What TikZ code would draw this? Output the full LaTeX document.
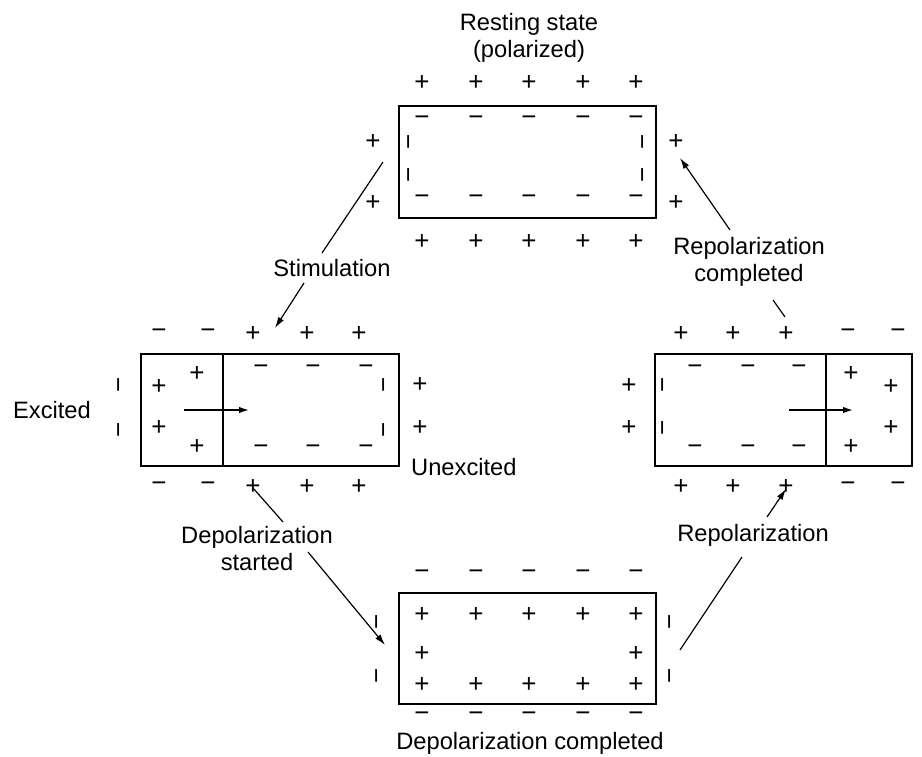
\documentclass[tikz,border=0pt]{standalone}
\usepackage{fontspec}
\setmainfont{Liberation Sans}
\usetikzlibrary{arrows.meta}
\begin{document}
\begin{tikzpicture}[x=1pt,y=-1pt,
  lbl/.style={inner sep=0pt,font=\fontsize{23.7}{27}\selectfont,align=center},
  sgn/.style={inner sep=0pt,font=\fontsize{26}{28}\selectfont},
  cell/.style={draw,line width=1.8pt},
  conn/.style={line width=1.2pt},
  tip/.style={line width=1.2pt,-{Latex[length=11pt,width=6.5pt]}},
  flow/.style={line width=1.5pt,-{Latex[length=10pt,width=6.5pt]}}]
\useasboundingbox (0,0) rectangle (922,756);
\newcommand\PL[2]{\node[sgn] at (#1,#2) {+};}
\newcommand\MN[2]{\node[sgn] at (#1,#2) {−};}
\newcommand\VB[2]{\node[sgn,rotate=90] at (#1,#2) {−};}

% ---------- Resting state (top) ----------
\node[lbl] (rest) at (529,38) {Resting state\\(polarized)};
\draw[cell] (399,106) rectangle (656,218);
\foreach \x in {422,476,529,583,636}{\PL{\x}{83}\PL{\x}{242}\MN{\x}{121}\MN{\x}{200}}
\foreach \y in {142,175}{\VB{412}{\y}\VB{646}{\y}}
\foreach \y in {142,203}{\PL{373}{\y}\PL{676}{\y}}

% ---------- Excited (left) ----------
\draw[cell] (141,354) rectangle (399,466);
\draw[line width=1.8pt] (223,354) -- (223,466);
\foreach \y in {334,487}{\MN{159}{\y}\MN{208}{\y}\PL{253}{\y}\PL{307}{\y}\PL{359}{\y}}
\PL{159}{387}\PL{197}{374}\PL{159}{428}\PL{197}{447}
\foreach \x in {261,313,366}{\MN{\x}{370}\MN{\x}{450}}
\foreach \y in {385,430}{\VB{387}{\y}\VB{122}{\y}}
\PL{420}{385}\PL{420}{428}
\coordinate (la) at (184,410); \coordinate (lb) at (249,410);
\draw[flow] (la) -- (lb);
\node[lbl] (exc) at (52,410) {Excited};
\node[lbl,anchor=west] (unexc) at (411,467) {Unexcited};

% ---------- Repolarizing (right) ----------
\draw[cell] (655,354) rectangle (912,466);
\draw[line width=1.8pt] (826,354) -- (826,466);
\foreach \y in {334,487}{\PL{681}{\y}\PL{733}{\y}\PL{786}{\y}\MN{848}{\y}\MN{898}{\y}}
\foreach \x in {695,748,799}{\MN{\x}{370}\MN{\x}{450}}
\foreach \y in {385,428}{\VB{666}{\y}}
\PL{629}{386}\PL{629}{428}
\PL{851}{374}\PL{891}{387}\PL{891}{428}\PL{851}{447}
\coordinate (ra) at (789,410); \coordinate (rb) at (853,410);
\draw[flow] (ra) -- (rb);

% ---------- Depolarized (bottom) ----------
\draw[cell] (399,593) rectangle (656,704);
\foreach \x in {422,476,529,583,636}{\MN{\x}{575}\MN{\x}{717}\PL{\x}{615}\PL{\x}{685}}
\PL{422}{654}\PL{636}{654}
\foreach \y in {622,676}{\VB{380}{\y}\VB{673}{\y}}
\node[lbl] (depc) at (530,743) {Depolarization completed};

% ---------- Labels and connectors ----------
\node[lbl] (stim) at (332,268) {Stimulation};
\node[lbl] (repc) at (749,262) {Repolarization\\completed};
\node[lbl] (deps) at (257,549) {Depolarization\\started};
\node[lbl] (repo) at (753,535) {Repolarization};

\coordinate (s1) at (383,162); \coordinate (s2) at (322,253);
\coordinate (s3) at (304,283); \coordinate (s4) at (275,328);
\draw[conn] (s1) -- (s2);
\draw[tip] (s3) -- (s4);

\coordinate (c1) at (785,317); \coordinate (c2) at (773,300);
\coordinate (c3) at (730,230); \coordinate (c4) at (680,158);
\draw[conn] (c1) -- (c2);
\draw[tip] (c3) -- (c4);

\coordinate (d1) at (253,488); \coordinate (d2) at (283,522);
\coordinate (d3) at (308,552); \coordinate (d4) at (385,645);
\draw[conn] (d1) -- (d2);
\draw[tip] (d3) -- (d4);

\coordinate (p1) at (680,650); \coordinate (p2) at (742,557);
\coordinate (p3) at (767,517); \coordinate (p4) at (786,489);
\draw[conn] (p1) -- (p2);
\draw[tip] (p3) -- (p4);
\end{tikzpicture}
\end{document}
